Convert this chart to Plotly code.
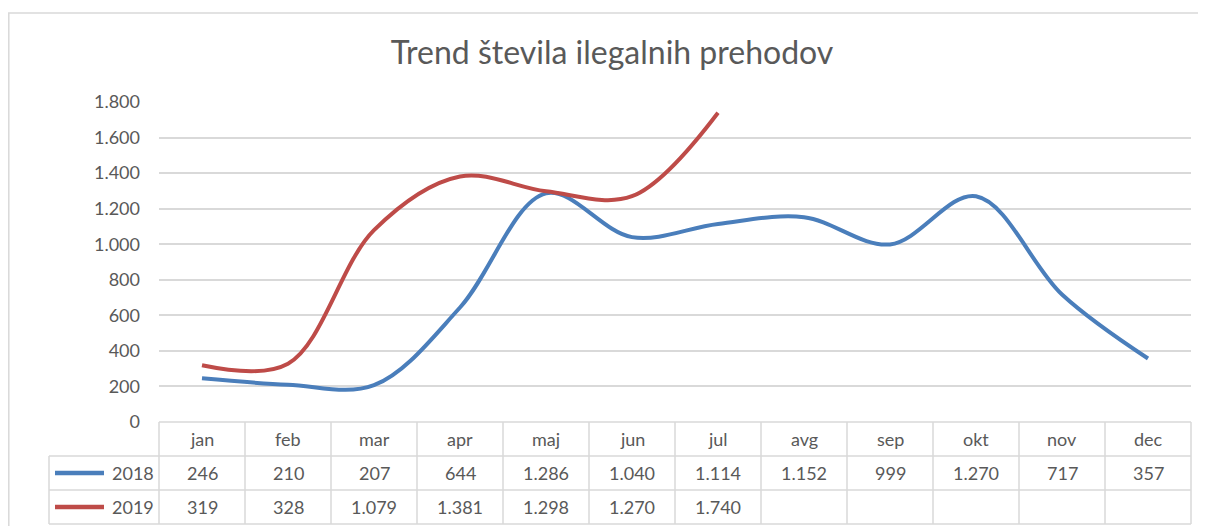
import plotly.graph_objects as go

months = ["jan", "feb", "mar", "apr", "maj", "jun", "jul", "avg", "sep", "okt", "nov", "dec"]
series_names = ["2018", "2019"]
values_2018 = [246, 210, 207, 644, 1286, 1040, 1114, 1152, 999, 1270, 717, 357]
values_2019 = [319, 328, 1079, 1381, 1298, 1270, 1740]
colors = ["#4A7EBB", "#BE4B48"]
y_ticks = [0, 200, 400, 600, 800, 1000, 1200, 1400, 1600, 1800]

OFF = 8  # page body margin
W, H = 1206 - OFF, 526 - OFF
# reference pixel geometry
PL, PR, PT, PB = 159, 1191, 102, 422
ML, MT = PL - OFF, PT - OFF
MR, MB = W - (PR - OFF), H - (PB - OFF)
PW = PR - PL
PH = PB - PT

FONT = "Lato, 'Open Sans', sans-serif"
TXT = "#595959"
GRID = "#D9D9D9"


def fmt(v):
    return f"{v:,}".replace(",", ".")


def py(px):  # reference pixel y -> paper y
    return (PB - px) / PH


def pxx(px):  # reference pixel x -> paper x
    return (px - PL) / PW


fig = go.Figure()
all_series = [values_2018, values_2019]
for name, vals, col in zip(series_names, all_series, colors):
    fig.add_trace(go.Scatter(
        x=months[:len(vals)], y=vals, name=name, mode="lines",
        line=dict(color=col, width=4, shape="spline", smoothing=1.0),
        showlegend=False,
    ))

shapes = []
row_lines = [422, 456, 490, 524]
for i, yp in enumerate(row_lines):
    x0 = 0 if i == 0 else pxx(49)
    shapes.append(dict(type="line", xref="x domain", yref="paper", x0=x0, x1=1,
                       y0=py(yp), y1=py(yp), line=dict(color=GRID, width=1.5)))
for k in range(len(months) + 1):
    shapes.append(dict(type="line", xref="x domain", yref="paper", x0=k / len(months), x1=k / len(months),
                       y0=py(422), y1=py(524), line=dict(color=GRID, width=1.5)))
shapes.append(dict(type="line", xref="x domain", yref="paper", x0=pxx(49), x1=pxx(49),
                   y0=py(456), y1=py(524), line=dict(color=GRID, width=1.5)))
# outer chart border
shapes.append(dict(type="rect", xref="paper", yref="paper", x0=pxx(8.8), x1=pxx(1230),
                   y0=py(560), y1=py(13), line=dict(color=GRID, width=1.5)))

annotations = []
for m in months:
    annotations.append(dict(x=m, xref="x", y=py(439), yref="paper", text=m, showarrow=False,
                            xanchor="center", yanchor="middle",
                            font=dict(family=FONT, size=18, color=TXT)))
row_centers = [473, 507]
for name, vals, col, yc in zip(series_names, all_series, colors, row_centers):
    shapes.append(dict(type="line", xref="paper", yref="paper", x0=pxx(55), x1=pxx(104),
                       y0=py(yc), y1=py(yc), line=dict(color=col, width=4.5)))
    annotations.append(dict(x=pxx(156), xref="paper", y=py(yc), yref="paper", text=name,
                            showarrow=False, xanchor="right", yanchor="middle",
                            font=dict(family=FONT, size=18, color=TXT)))
    for m, v in zip(months, vals):
        annotations.append(dict(x=m, xref="x", y=py(yc), yref="paper", text=fmt(v), showarrow=False,
                                xanchor="center", yanchor="middle",
                                font=dict(family=FONT, size=18, color=TXT)))

fig.update_layout(
    width=W, height=H,
    margin=dict(l=ML, r=MR, t=MT, b=MB, pad=0),
    paper_bgcolor="white", plot_bgcolor="white",
    separators=",.",
    title=dict(text="Trend števila ilegalnih prehodov", x=(612 - OFF) / W, xanchor="center",
               y=1 - (53 - OFF) / H, yanchor="middle",
               font=dict(family=FONT, size=32, color=TXT)),
    xaxis=dict(type="category", categoryarray=months, range=[-0.5, len(months) - 0.5],
               showticklabels=False, showgrid=False, zeroline=False, showline=False, ticks=""),
    yaxis=dict(range=[0, 1800], tickvals=y_ticks, tickformat=",d", showgrid=True,
               gridcolor=GRID, gridwidth=1.5, zeroline=False, showline=False, ticks="",
               ticklabelstandoff=18,
               tickfont=dict(family=FONT, size=18, color=TXT)),
    shapes=shapes,
    annotations=annotations,
)

fig.write_html("out.html")
